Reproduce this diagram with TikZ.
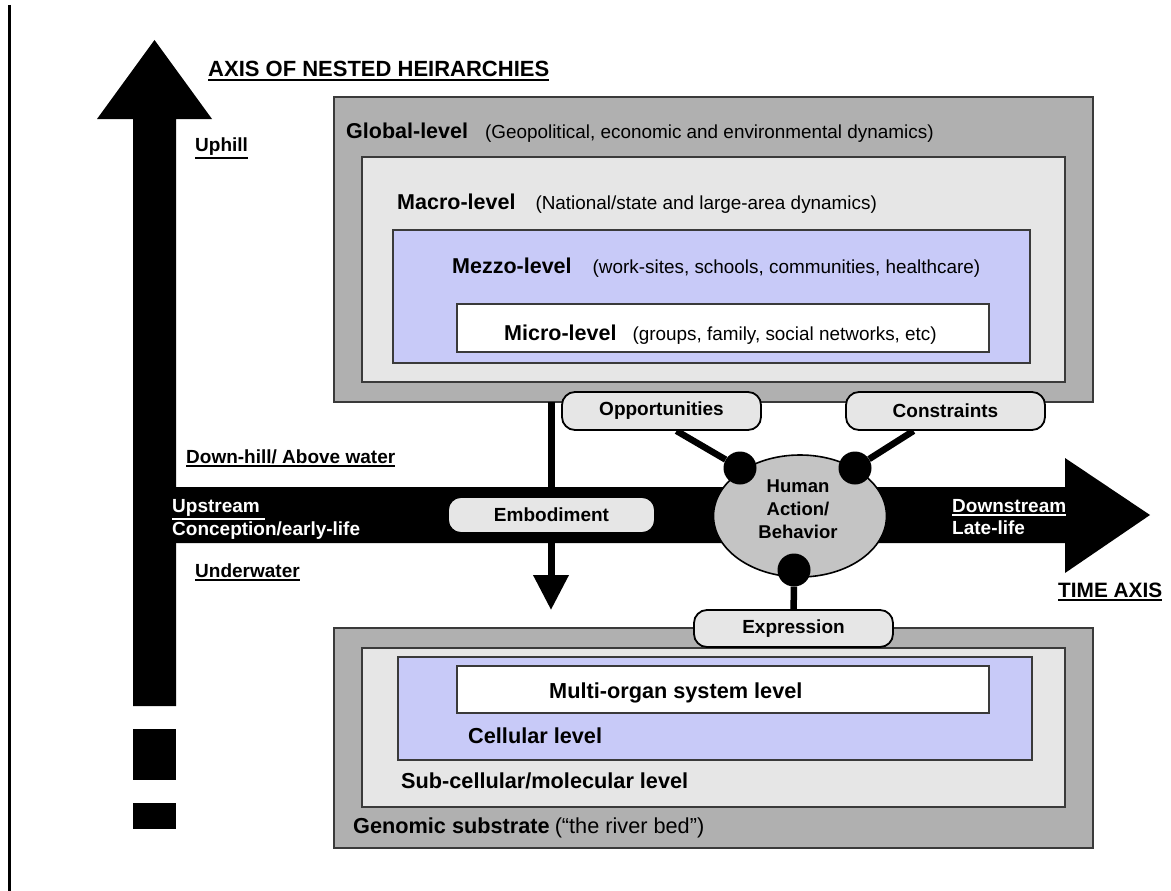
\documentclass[tikz,border=0pt]{standalone}
\usepackage{fontspec}
\setmainfont{Liberation Sans}
\usetikzlibrary{arrows.meta,shapes.geometric}
\pgfdeclarelayer{links}
\pgfsetlayers{links,main}

\definecolor{outergray}{HTML}{B0B0B0}
\definecolor{panelgray}{HTML}{E6E6E6}
\definecolor{levelblue}{HTML}{C8CAF8}
\definecolor{pillgray}{HTML}{E6E6E6}
\definecolor{bodygray}{HTML}{C4C4C4}
\definecolor{edgegray}{HTML}{3A3A3A}

% thick underline for the axis labels
\newcommand\ulthick[1]{\leavevmode\vtop{\hbox{#1}\kern1.6pt\hrule height2pt}}
% level name and its note
\newcommand\lvlname[1]{{\fontsize{21.5}{24}\selectfont\bfseries #1}}
\newcommand\lvlnote[1]{{\fontsize{18.9}{22}\selectfont #1}}

\tikzset{
  levelbox/.style={draw=edgegray, line width=1.3pt, inner sep=0pt, outer sep=0pt, anchor=north west},
  pill/.style={draw=black, line width=1.8pt, fill=pillgray, rounded corners=13pt,
               inner sep=0pt, font=\fontsize{19}{22}\selectfont\bfseries},
  knob/.style={circle, fill=black, minimum size=33pt, inner sep=0pt},
  link/.style={line width=6.5pt},
  lvltext/.style={anchor=base west, inner sep=0pt},
  bedtext/.style={anchor=base west, inner sep=0pt, font=\fontsize{21.7}{25}\selectfont\bfseries},
  axislabel/.style={anchor=base west, inner sep=0pt, font=\fontsize{19}{22}\selectfont\bfseries},
  whitelabel/.style={axislabel, text=white},
}

\begin{document}
\begin{tikzpicture}[x=1pt, y=-1pt]
\useasboundingbox (0,0) rectangle (1171,891);

% page margin rule
\draw[line width=2.6pt] (9.6,5) -- (9.6,891);

% vertical axis of nested hierarchies
\fill (133,706) -- (133,119) -- (97,119) -- (154.5,40) -- (212,119) -- (176,119) -- (176,706) -- cycle;
\fill (133,729) rectangle (176,780);
\fill (133,803) rectangle (176,829);

% time axis
\fill (154,487) -- (1065,487) -- (1065,458) -- (1150,515) -- (1065,573) -- (1065,543) -- (154,543) -- cycle;

% axis labels
\node[axislabel, font=\fontsize{22}{25}\selectfont\bfseries] (axisv) at (208,77) {\ulthick{AXIS OF NESTED HEIRARCHIES}};
\node[axislabel] (uphill) at (195,151) {\ulthick{Uphill}};
\node[axislabel] (downhill) at (186,463) {\ulthick{Down-hill/ Above water}};
\node[whitelabel] (upstream) at (172,512) {\ulthick{Upstream\hspace{5pt}}};
\node[whitelabel] (early) at (172,535) {Conception/early-life};
\node[axislabel] (underwater) at (195,577) {\ulthick{Underwater}};
\node[whitelabel] (downstream) at (952,512) {\ulthick{Downstream}};
\node[whitelabel] (late) at (952,534) {Late-life};
\node[axislabel, font=\fontsize{20.8}{24}\selectfont\bfseries] (timeaxis) at (1058,597) {\ulthick{TIME AXIS}};

% upper nest of social levels
\node[levelbox, fill=outergray, minimum width=759pt, minimum height=305pt] (global) at (334,97) {};
\node[levelbox, fill=panelgray, minimum width=703pt, minimum height=225pt] (macro) at (362,157) {};
\node[levelbox, fill=levelblue, minimum width=637pt, minimum height=133pt] (mezzo) at (393,230) {};
\node[levelbox, fill=white, minimum width=532pt, minimum height=48pt] (micro) at (457,304) {};

\node[lvltext] (globaltxt) at (346,139) {\lvlname{Global-level}\hspace{17pt}\lvlnote{(Geopolitical, economic and environmental dynamics)}};
\node[lvltext] (macrotxt) at (397,209) {\lvlname{Macro-level}\hspace{20pt}\lvlnote{(National/state and large-area dynamics)}};
\node[lvltext] (mezzotxt) at (452,273) {\lvlname{Mezzo-level}\hspace{21pt}\lvlnote{(work-sites, schools, communities, healthcare)}};
\node[lvltext] (microtxt) at (504,340) {\lvlname{Micro-level}\hspace{16pt}\lvlnote{(groups, family, social networks, etc)}};

% lower nest of biological levels
\node[levelbox, fill=outergray, minimum width=759pt, minimum height=220pt] (genomic) at (334,628) {};
\node[levelbox, fill=panelgray, minimum width=703pt, minimum height=159pt] (subcell) at (362,648) {};
\node[levelbox, fill=levelblue, minimum width=634pt, minimum height=103pt] (cellular) at (398,657) {};
\node[levelbox, fill=white, minimum width=532pt, minimum height=47pt] (organ) at (457,666) {};

\node[bedtext] (organtxt) at (549,698) {Multi-organ system level};
\node[bedtext] (celltxt) at (468,743) {Cellular level};
\node[bedtext] (subcelltxt) at (401,788) {Sub-cellular/molecular level};
\node[bedtext] (genomictxt) at (353,833) {Genomic substrate\hspace{5pt}\mdseries(“the river bed”)};

% embodiment: from the social levels down toward the body
\coordinate (embtip) at (551,610);
\draw[line width=7pt, -{Triangle[length=35pt, width=34pt]}] (global.south -| embtip) -- (embtip);
\node[pill, minimum width=207pt, minimum height=36pt] (embodiment) at (551.5,515) {Embodiment};

% human action, its contexts and its expression
\node[ellipse, draw=black, line width=1.6pt, fill=bodygray, minimum width=173pt,
      minimum height=122pt, inner sep=0pt] (human) at (800,516) {};
\node[align=center, inner sep=0pt, font=\fontsize{18.5}{23}\selectfont\bfseries] (humantxt) at (798,509)
      {Human\\Action/\\Behavior};
\node[knob] (dotl) at (740,468) {};
\node[knob] (dotr) at (855,468) {};
\node[knob] (dotb) at (794,570) {};
\node[pill, minimum width=199pt, minimum height=38pt] (opportunities) at (661.5,411) {Opportunities};
\node[pill, minimum width=199pt, minimum height=38pt] (constraints) at (945.5,411) {Constraints};
\node[pill, minimum width=199pt, minimum height=37pt] (expression) at (793.5,628.5) {Expression};

\begin{pgfonlayer}{links}
  \draw[link] ([xshift=15pt]opportunities.south) -- (dotl);
  \draw[link] ([xshift=-32pt]constraints.south) -- (dotr);
  \draw[link] (dotb) -- (expression);
\end{pgfonlayer}
\end{tikzpicture}
\end{document}
